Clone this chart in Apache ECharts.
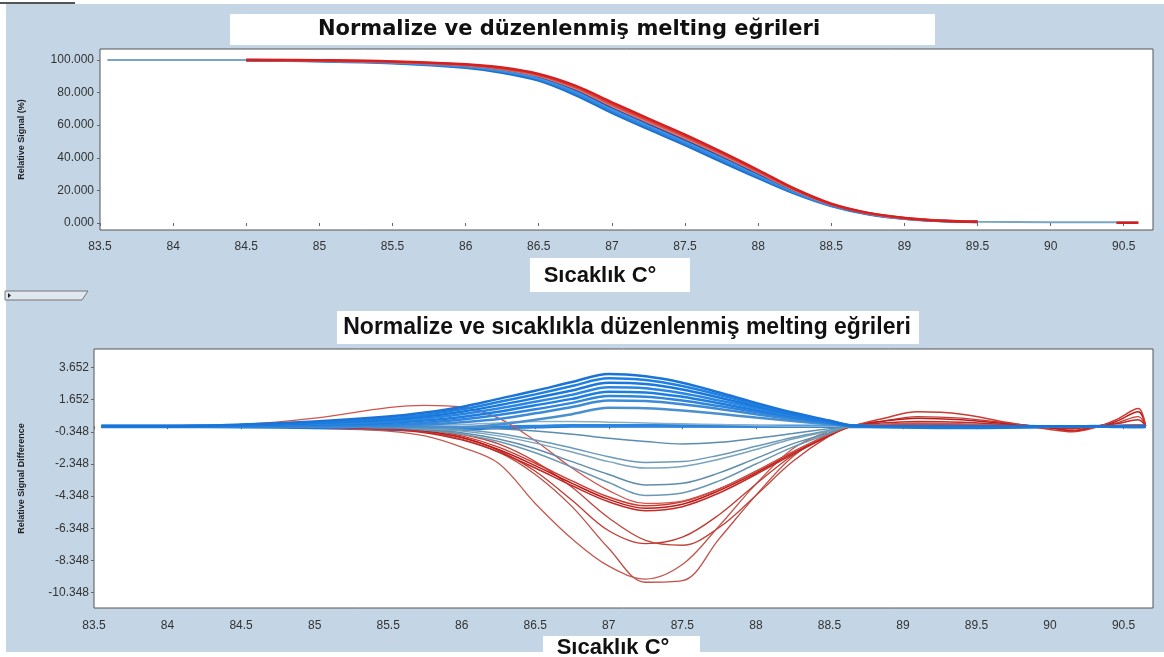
<!DOCTYPE html>
<html>
<head>
<meta charset="utf-8">
<title>melting eğrileri</title>
<script src="https://cdn.jsdelivr.net/npm/echarts@6/dist/echarts.min.js"></script>
<style>
html,body{margin:0;padding:0;background:#fff;}
#main{width:1164px;height:657px;}
</style>
</head>
<body>
<div id="main"></div>
<script>
// ---- ust grafik: normalize melting egrileri ----
var xTop = [83.55, 84, 84.5, 85, 85.5, 86, 86.25, 86.5, 86.75, 87, 87.25, 87.5, 87.75, 88, 88.25, 88.5, 88.75, 89, 89.25, 89.5, 90, 90.45, 90.6];
var topSteel = [100, 100, 100, 99.6, 98.6, 96.5, 94.0, 89.5, 81.5, 70.5, 60.0, 50.0, 40.0, 29.5, 19.5, 11.0, 5.8, 2.8, 1.3, 0.7, 0.5, 0.4, 0.4];
var topBlue1 = [null, null, 99.7, 99.2, 98.0, 95.2, 92.2, 87.3, 78.5, 67.5, 57.5, 47.8, 37.5, 27.5, 18.0, 10.4, 5.4, 2.6, 1.2, 0.6, null, null, null];
var topBlue2 = [null, null, 99.8, 99.4, 98.3, 95.8, 93.0, 88.3, 79.7, 68.8, 58.8, 49.0, 38.8, 28.5, 18.6, 10.7, 5.6, 2.7, 1.2, 0.6, null, null, null];
var topBlue3 = [null, null, 99.9, 99.5, 98.6, 96.3, 93.6, 89.0, 80.8, 70.0, 60.0, 50.2, 40.0, 29.5, 19.3, 11.0, 5.8, 2.8, 1.3, 0.7, null, null, null];
var topNavy = [null, null, 99.9, 99.5, 98.7, 96.6, 94.2, 89.8, 81.8, 71.0, 61.0, 51.2, 41.0, 30.3, 19.8, 11.2, 5.9, 2.9, 1.3, 0.7, null, null, null];
var topRed3 = [null, null, 99.9, 99.6, 98.8, 96.8, 94.5, 90.3, 82.5, 71.8, 61.8, 52.0, 41.8, 31.0, 20.2, 11.4, 6.0, 2.9, 1.3, 0.7, null, null, null];
var topRed2 = [null, null, 100, 99.7, 98.9, 97.0, 94.8, 90.8, 83.3, 72.8, 62.8, 53.0, 42.7, 31.7, 20.6, 11.6, 6.1, 3.0, 1.4, 0.7, null, null, null];
var topRed1 = [null, null, 100, 99.8, 99.1, 97.3, 95.3, 91.4, 84.2, 74.0, 64.0, 54.2, 43.6, 32.5, 21.0, 11.8, 6.2, 3.1, 1.4, 0.7, null, 0.2, 0.2];
var topTicks = [0, 20, 40, 60, 80, 100];

// ---- alt grafik: fark egrileri ----
var xBot = [83.55, 84, 84.5, 85, 85.5, 85.75, 86, 86.25, 86.5, 86.75, 87, 87.25, 87.5, 87.75, 88, 88.25, 88.5, 88.65, 88.85, 89.1, 89.4, 89.7, 90, 90.15, 90.3, 90.45, 90.6, 90.65];
var botTicks = [-10.348, -8.348, -6.348, -4.348, -2.348, -0.348, 1.652, 3.652];

var blueFlat1 = [0.03, 0.03, 0.02, 0, -0.05, -0.1, -0.1, -0.05, 0, 0.05, 0.05, 0.05, 0.03, 0.02, 0, 0, 0, 0, 0.05, 0.1, 0.08, 0.03, -0.03, -0.05, -0.02, 0, 0.05, 0.03];
var blueFlat2 = [-0.03, -0.03, -0.05, -0.1, -0.2, -0.25, -0.2, -0.1, -0.05, 0, 0, 0, 0, 0, 0, 0, 0, -0.03, -0.05, -0.08, -0.1, -0.08, -0.05, -0.03, 0, -0.03, -0.05, -0.03];

var blue1 = [0, 0, 0.1, 0.3, 0.6, 0.85, 1.2, 1.7, 2.2, 2.75, 3.25, 3.1, 2.7, 2.1, 1.45, 0.85, 0.35, 0.05, 0, 0, 0, 0, 0, 0, 0, 0, 0, 0];
var blue2 = [0, 0, 0.08, 0.25, 0.5, 0.72, 1.05, 1.5, 1.98, 2.5, 2.98, 2.87, 2.5, 1.95, 1.35, 0.8, 0.32, 0.04, 0, 0, 0, 0, 0, 0, 0, 0, 0, 0];
var blue3 = [0, 0, 0.05, 0.2, 0.4, 0.6, 0.9, 1.3, 1.75, 2.22, 2.7, 2.62, 2.28, 1.78, 1.24, 0.73, 0.29, 0.03, 0, 0, 0, 0, 0, 0, 0, 0, 0, 0];
var blue4 = [0, 0, 0.03, 0.15, 0.3, 0.48, 0.75, 1.1, 1.52, 1.95, 2.42, 2.36, 2.05, 1.6, 1.12, 0.66, 0.26, 0.02, 0, 0, 0, 0, 0, 0, 0, 0, 0, 0];
var blue5 = [0, 0, 0.02, 0.1, 0.2, 0.35, 0.58, 0.9, 1.3, 1.7, 2.15, 2.1, 1.83, 1.43, 1.0, 0.59, 0.23, 0.02, 0, 0, 0, 0, 0, 0, 0, 0, 0, 0];
var blue6 = [0, 0, 0, 0.05, 0.1, 0.22, 0.42, 0.7, 1.05, 1.45, 1.88, 1.83, 1.6, 1.25, 0.88, 0.52, 0.2, 0.01, 0, 0, 0, 0, 0, 0, 0, 0, 0, 0];
var blue7 = [0, 0, 0, 0, 0.02, 0.1, 0.25, 0.45, 0.8, 1.2, 1.6, 1.56, 1.36, 1.07, 0.75, 0.44, 0.17, 0.01, 0, 0, 0, 0, 0, 0, 0, 0, 0, 0];
var blue8 = [0, 0, 0, -0.02, -0.05, -0.05, -0.05, 0.1, 0.4, 0.75, 1.15, 1.12, 0.98, 0.77, 0.54, 0.32, 0.12, 0, 0, 0, 0, 0, 0, 0, 0, 0, 0, 0];

var steel1 = [0, 0, 0, 0, 0, 0.05, 0.1, 0.2, 0.3, 0.3, 0.25, 0.2, 0.15, 0.1, 0.05, 0, 0, 0, 0, 0, 0, 0, 0, 0, 0, 0, 0, 0];
var steel2 = [0, 0, 0, 0, 0, -0.02, -0.05, -0.15, -0.3, -0.5, -0.75, -0.95, -1.1, -1.0, -0.75, -0.45, -0.15, 0, 0, 0, 0, 0, 0, 0, 0, 0, 0, 0];
var steel3 = [0, 0, 0, 0, -0.05, -0.1, -0.2, -0.45, -0.85, -1.35, -1.9, -2.25, -2.2, -1.8, -1.25, -0.7, -0.25, 0, 0, 0, 0, 0, 0, 0, 0, 0, 0, 0];
var steel4 = [0, 0, 0, 0, -0.05, -0.15, -0.3, -0.6, -1.05, -1.6, -2.2, -2.6, -2.5, -2.05, -1.45, -0.8, -0.3, 0, 0, 0, 0, 0, 0, 0, 0, 0, 0, 0];
var steel5 = [0, 0, 0, -0.02, -0.1, -0.2, -0.4, -0.8, -1.4, -2.2, -3.0, -3.65, -3.55, -2.9, -2.0, -1.1, -0.4, 0, 0, 0, 0, 0, 0, 0, 0, 0, 0, 0];
var steel6 = [0, 0, 0, -0.02, -0.1, -0.25, -0.5, -0.95, -1.65, -2.55, -3.5, -4.3, -4.15, -3.4, -2.35, -1.3, -0.45, 0, 0, 0, 0, 0, 0, 0, 0, 0, 0, 0];

var redC1 = [0, 0, 0.05, 0.1, 0, -0.2, -0.6, -1.3, -2.3, -3.4, -4.4, -4.95, -4.7, -3.9, -2.8, -1.6, -0.5, 0, 0.45, 0.9, 0.75, 0.25, -0.2, -0.35, -0.1, 0.4, 1.1, 0];
var redC2 = [0, 0, 0.02, 0, -0.1, -0.3, -0.7, -1.45, -2.45, -3.55, -4.55, -5.1, -4.85, -4.0, -2.9, -1.65, -0.55, 0, 0.3, 0.5, 0.4, 0.15, -0.1, -0.3, -0.05, 0.3, 0.9, 0];
var redC3 = [0, 0, 0, -0.05, -0.2, -0.4, -0.85, -1.6, -2.6, -3.7, -4.7, -5.25, -5.0, -4.15, -3.0, -1.75, -0.6, 0, 0.2, 0.3, 0.25, 0.1, -0.05, -0.15, 0, 0.15, 0.4, 0];
var redBump = [0, 0, 0.1, 0.5, 1.15, 1.3, 1.2, 0.5, -0.9, -2.6, -4.0, -4.8, -4.65, -3.9, -2.8, -1.6, -0.5, 0, 0.1, 0.2, 0.15, 0.05, 0, -0.05, 0, 0.05, 0.1, 0];
var redF = [0, 0, 0, 0, -0.1, -0.3, -0.7, -1.5, -2.8, -4.6, -6.5, -7.3, -6.9, -5.5, -3.6, -1.8, -0.5, 0, 0.3, 0.6, 0.5, 0.2, -0.1, -0.25, 0, 0.2, 0.6, 0];
var redG = [0, 0, 0, 0, -0.05, -0.2, -0.5, -1.1, -2.2, -3.8, -5.7, -7.1, -7.4, -6.3, -4.3, -2.2, -0.6, 0, 0.1, 0.15, 0.1, 0.05, 0, 0, 0, 0, 0, 0];
var redH = [0, 0, 0, -0.05, -0.3, -0.6, -1.3, -2.3, -4.8, -7.0, -8.7, -9.5, -8.6, -6.2, -3.6, -1.4, -0.3, 0, 0.1, 0.1, 0.05, 0, 0, 0, 0, 0, 0, 0];
var redI = [0, 0, 0, 0, -0.1, -0.35, -0.8, -1.6, -3.0, -5.0, -7.6, -9.7, -9.6, -7.0, -4.3, -1.9, -0.45, 0, 0.05, 0.1, 0.05, 0, 0, 0, 0, 0, 0, 0];

// x ve y dizilerini eslestir
function pairs(xs, ys){
	var out = [];
	for (var i = 0; i < xs.length; i++) {
		out.push([xs[i], ys[i] === null ? '-' : ys[i]]);
	}
	return out;
}

function line(idx, xs, ys, color, width){
	return {
		type: 'line',
		xAxisIndex: idx,
		yAxisIndex: idx,
		data: pairs(xs, ys),
		smooth: 0.35,
		showSymbol: false,
		connectNulls: false,
		silent: true,
		lineStyle: {color: color, width: width}
	};
}

function xAxisOf(idx, gap){
	return {
		type: 'value', gridIndex: idx, min: 83.5, max: 90.7, interval: 0.5,
		axisLine: {show: false},
		axisTick: {show: true, length: 3, lineStyle: {color: '#666'}},
		axisLabel: {color: '#333', fontSize: 12, fontFamily: 'Arial', margin: gap, showMaxLabel: false},
		splitLine: {show: false}
	};
}

var chart = echarts.init(document.getElementById('main'));
var option = {
	animation: false,
	backgroundColor: '#fff',
	grid: [
		{left: 100, top: 49, width: 1053, height: 181, show: true, backgroundColor: '#fff', borderColor: '#555', borderWidth: 1},
		{left: 94, top: 349, width: 1059, height: 259, show: true, backgroundColor: '#fff', borderColor: '#555', borderWidth: 1}
	],
	xAxis: [xAxisOf(0, 11), xAxisOf(1, 12)],
	yAxis: [
		{
			type: 'value', gridIndex: 0, min: -4.3, max: 106.7,
			name: 'Relative Signal (%)', nameLocation: 'middle', nameRotate: 90, nameGap: 74,
			nameTextStyle: {fontSize: 9, fontWeight: 'bold', color: '#222', fontFamily: 'Arial'},
			axisLine: {show: false},
			axisTick: {show: true, length: 3, customValues: topTicks, lineStyle: {color: '#666'}},
			axisLabel: {color: '#333', fontSize: 12, fontFamily: 'Arial', margin: 6, customValues: topTicks,
				formatter: function(v){ return v.toFixed(3); }},
			splitLine: {show: false}
		},
		{
			type: 'value', gridIndex: 1, min: -11.3, max: 4.8,
			name: 'Relative Signal Difference', nameLocation: 'middle', nameRotate: 90, nameGap: 68,
			nameTextStyle: {fontSize: 9, fontWeight: 'bold', color: '#222', fontFamily: 'Arial'},
			axisLine: {show: false},
			axisTick: {show: true, length: 3, customValues: botTicks, lineStyle: {color: '#666'}},
			axisLabel: {color: '#333', fontSize: 12, fontFamily: 'Arial', margin: 5, customValues: botTicks,
				formatter: function(v){ return v.toFixed(3); }},
			splitLine: {show: false}
		}
	],
	graphic: [
		{type: 'rect', z: -10, shape: {x: 6, y: 4, width: 1158, height: 648}, style: {fill: '#c4d5e6'}},
		{type: 'rect', z: -9, shape: {x: 0, y: 2, width: 75, height: 2}, style: {fill: '#555'}},
		// ust baslik
		{type: 'rect', shape: {x: 230, y: 14, width: 705, height: 31}, style: {fill: '#fff'}},
		{type: 'text', x: 569, y: 30, style: {text: 'Normalize ve düzenlenmiş melting eğrileri', fill: '#111',
			font: 'bold 21px "DejaVu Sans", Arial', textAlign: 'center', textVerticalAlign: 'middle'}},
		{type: 'rect', shape: {x: 530, y: 258, width: 160, height: 34}, style: {fill: '#fff'}},
		{type: 'text', x: 600, y: 276, style: {text: 'Sıcaklık C°', fill: '#111',
			font: 'bold 22px Arial', textAlign: 'center', textVerticalAlign: 'middle'}},
		// ayirici
		{type: 'polygon', shape: {points: [[5, 291], [88, 291], [82, 300], [5, 300]]}, style: {fill: '#dfe7ef', stroke: '#777', lineWidth: 1}},
		{type: 'polygon', shape: {points: [[8, 293], [11, 295.5], [8, 298]]}, style: {fill: '#222'}},
		// alt baslik
		{type: 'rect', shape: {x: 337, y: 311, width: 582, height: 33}, style: {fill: '#fff'}},
		{type: 'text', x: 627, y: 328, style: {text: 'Normalize ve sıcaklıkla düzenlenmiş melting eğrileri', fill: '#111',
			font: 'bold 23px "Liberation Sans Narrow", Arial', textAlign: 'center', textVerticalAlign: 'middle'}},
		{type: 'rect', shape: {x: 543, y: 636, width: 157, height: 21}, style: {fill: '#fff'}},
		{type: 'text', x: 613, y: 648, style: {text: 'Sıcaklık C°', fill: '#111',
			font: 'bold 22px Arial', textAlign: 'center', textVerticalAlign: 'middle'}}
	],
	series: [
		// ust grafik
		line(0, xTop, topSteel, '#7aa6c6', 2),
		line(0, xTop, topBlue1, '#1f6fd0', 2.5),
		line(0, xTop, topBlue2, '#2e86de', 2.5),
		line(0, xTop, topBlue3, '#3a95e6', 2.5),
		line(0, xTop, topNavy, '#33409a', 2),
		line(0, xTop, topRed3, '#e07a70', 2.5),
		line(0, xTop, topRed2, '#d84a40', 2.5),
		line(0, xTop, topRed1, '#d42020', 2.5),
		// alt grafik
		line(1, xBot, blueFlat2, '#1f78d6', 3),
		line(1, xBot, blueFlat1, '#2a86e0', 3),
		line(1, xBot, redI, '#bf4f47', 1.3),
		line(1, xBot, redH, '#c25a50', 1.3),
		line(1, xBot, redG, '#c0463c', 1.3),
		line(1, xBot, redF, '#c23a32', 1.3),
		line(1, xBot, redC3, '#c22a24', 1.5),
		line(1, xBot, redC2, '#b81c1c', 1.5),
		line(1, xBot, redC1, '#cc3a30', 1.5),
		line(1, xBot, redBump, '#d2544c', 1.3),
		line(1, xBot, steel6, '#6b97b3', 1.5),
		line(1, xBot, steel5, '#5f8ead', 1.5),
		line(1, xBot, steel4, '#7aa4be', 1.5),
		line(1, xBot, steel3, '#6a9ab8', 1.5),
		line(1, xBot, steel2, '#5c8cb0', 1.5),
		line(1, xBot, steel1, '#8ab0c8', 1.5),
		line(1, xBot, blue8, '#4a90d0', 2.5),
		line(1, xBot, blue7, '#3d8ad6', 2.5),
		line(1, xBot, blue6, '#2f84dc', 2.5),
		line(1, xBot, blue5, '#1e7ee0', 2.5),
		line(1, xBot, blue4, '#2a86e2', 2.5),
		line(1, xBot, blue3, '#1a78dc', 2.5),
		line(1, xBot, blue2, '#2080e0', 2.5),
		line(1, xBot, blue1, '#1a74d8', 2.5)
	]
};
chart.setOption(option);
</script>
</body>
</html>
